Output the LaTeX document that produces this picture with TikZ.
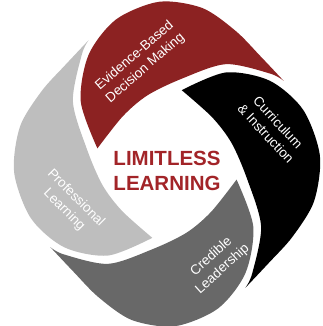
\documentclass[tikz,border=0pt]{standalone}
\usepackage{fontspec}
\setmainfont{Liberation Sans}
\usetikzlibrary{positioning}
\definecolor{segred}{RGB}{140,34,34}
\definecolor{seggrey}{RGB}{104,104,104}
\definecolor{seglight}{RGB}{190,190,190}
\definecolor{limitred}{RGB}{162,36,40}

\begin{document}
\begin{tikzpicture}[x=1pt, y=1pt,
    seglabel/.style={text=white, font=\fontsize{13.5}{16.5}\selectfont, align=center, inner sep=1pt},
    centerlabel/.style={text=limitred, font=\fontsize{20.5}{25}\selectfont\bfseries, align=center}]
    \useasboundingbox (0,0) rectangle (322,-326);

    % Four segments, one shape turned round the centre
    \begin{scope}[shift={(167,-164)}, xscale=0.98, yscale=1.04]
    \foreach \ang/\col in {0/segred, -90/black, 180/seggrey, 90/seglight}
        \fill[\col, rotate=\ang]
            plot[smooth] coordinates {(-71,15) (-88,60) (-80,105) (-52,139) (-8,156) (36,150) (70,128) (95,104) (119,80)}
            -- plot[smooth] coordinates {(119,80) (105,87) (60,96) (15,82) (-20,66) (-45,46) (-71,15)}
            -- cycle;
    \end{scope}

    % Labels on the segments
    \node[seglabel, rotate=41] (evidence) at (140,-62) {Evidence-Based\\Decision Making};
    \node[seglabel, rotate=-47] (curriculum) at (272,-128) {Curriculum\\\& Instruction};
    \node[seglabel, rotate=42] (credible) at (217,-263) {Credible\\Leadership};
    \node[seglabel, rotate=-45] (professional) at (70,-204) {Professional\\Learning};

    % Centre
    \node[centerlabel] (limitless) at (167,-171) {LIMITLESS\\LEARNING};
\end{tikzpicture}
\end{document}
